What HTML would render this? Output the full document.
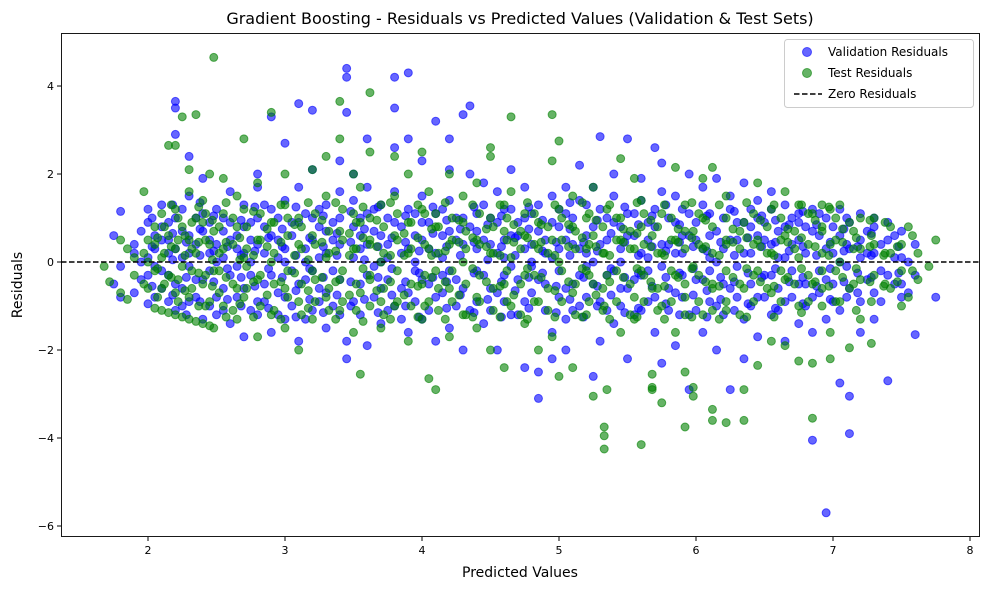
<!DOCTYPE html>
<html><head><meta charset="utf-8"><style>
body{margin:0;background:#fff;}
svg{display:block;font-family:"DejaVu Sans","Liberation Sans",sans-serif;}
</style></head><body>
<svg id="chart" width="989" height="590">
<rect width="989" height="590" fill="#fff"/>
<text x="520" y="24" text-anchor="middle" font-size="16">Gradient Boosting - Residuals vs Predicted Values (Validation &amp; Test Sets)</text>
<g id="points"></g>
<g id="axes"></g>
<text x="520" y="577" text-anchor="middle" font-size="14">Predicted Values</text>
<text x="22" y="285" text-anchor="middle" font-size="14" transform="rotate(-90 22 285)">Residuals</text>
<g>
<rect x="784.5" y="39.5" width="189" height="68" rx="3" fill="#fff" fill-opacity="0.8" stroke="#ccc"/>
<g><circle cx="807" cy="52" r="4.5" fill="#0000ff" fill-opacity="0.6" stroke="#0000ff" stroke-opacity="0.6"/><text x="828" y="56" font-size="12">Validation Residuals</text></g>
<g><circle cx="807" cy="73" r="4.5" fill="#008000" fill-opacity="0.6" stroke="#008000" stroke-opacity="0.6"/><text x="828" y="77" font-size="12">Test Residuals</text></g>
<g><line x1="794" y1="94" x2="822" y2="94" stroke="#000" stroke-width="1.5" stroke-dasharray="5.5,2.5"/><text x="828" y="98" font-size="12">Zero Residuals</text></g>
</g>
</svg>
<script>
// rows: [x, y1, y2, ...]
const validationRows = [
[1.75,-0.5,0.6],[1.8,-0.8,1.15,-0.1],[1.9,0.4,-0.7,0.2],[2.0,-0.95,0.9,-0.3,0.1,1.2],[2.1,-0.6,0.5,1.3,-0.2,0.8],
[2.2,3.65,3.5,2.9,-1.1,0.3,-0.5,1.0],[2.3,-0.9,0.6,1.5,-0.1,2.4,0.2],[2.4,1.9,-1.3,0.7,-0.4,1.1],[2.5,-0.8,0.4,1.2,-1.2,0.0],
[2.6,0.9,-0.3,-1.4,1.6,0.5],[2.7,-1.7,0.2,1.3,-0.6,0.8],[2.8,2.0,-0.9,0.4,-1.2,1.0,1.7],[2.9,3.3,0.6,-0.3,-1.6,1.2],
[3.0,2.7,-0.8,0.3,1.4,-1.3,0.0],[3.1,3.6,-1.8,0.9,-0.5,1.7],[3.2,3.45,0.5,-1.1,2.1,-0.2,1.0],[3.3,-1.5,0.2,1.3,-0.7,0.7],
[3.4,2.3,-0.4,1.0,-1.2,0.4,1.6],[3.45,4.4,4.2,3.4,-2.2,-1.8],[3.5,0.1,1.4,-0.9,0.8,2.0],[3.6,2.8,-1.9,0.4,-0.3,1.1,1.7],
[3.7,-1.4,0.6,1.3,-0.6,0.0],[3.8,4.2,3.5,2.6,-1.0,0.9,1.6],[3.9,4.3,2.8,-0.7,0.3,1.2,-1.6],[4.0,2.3,0.5,-0.4,1.5,-1.3,0.9],
[4.1,3.2,-1.8,0.2,1.1,-0.8],[4.2,2.8,2.1,-0.2,0.7,1.4,-1.5],[4.3,3.35,-2.0,0.4,1.0,-0.6],[4.35,3.55,2.0,-1.1,0.8],
[4.45,1.8,-0.3,0.5,-1.4,1.3],[4.55,-2.0,0.9,-0.7,0.2,1.6],[4.65,1.2,-1.2,0.6,-0.1,2.1],[4.75,-2.4,0.3,1.0,-0.9,1.7],
[4.85,-3.1,-2.5,0.7,-0.4,1.3],[4.95,1.5,-1.6,0.1,0.9,-2.2],[5.05,1.7,-0.6,0.5,-1.3,1.1,-2.0],[5.15,2.2,0.3,-1.0,1.4,-0.3],
[5.25,-2.6,0.8,-0.5,1.7,0.0],[5.3,2.85,-1.8,0.4,1.2,-0.9],[5.4,2.0,-0.2,0.9,-1.4,1.5],[5.5,2.8,-2.2,0.6,-0.6,1.1],
[5.6,1.9,-1.1,0.2,1.4,-0.3],[5.7,2.6,-1.6,0.8,-0.8,1.2],[5.75,2.25,-2.3,0.4,1.6,-0.1],[5.85,1.5,-0.7,0.9,-1.9,0.2],
[5.95,2.0,-2.9,0.6,-1.2,1.1],[6.05,1.7,-1.6,0.3,-0.4,1.3],[6.15,1.9,-1.0,0.7,-2.0,0.0],[6.25,-2.9,1.2,-0.6,0.5,1.5],
[6.35,-2.2,0.9,-1.3,0.2,1.8],[6.45,1.4,-0.8,0.6,-1.7,1.0],[6.55,-1.2,0.4,1.2,-0.3,1.6],[6.65,-0.9,0.8,-1.8,0.1,1.3],
[6.75,1.1,-1.4,0.5,-0.5,0.9],[6.85,-4.05,-1.6,0.7,-0.8,1.2],[6.95,-5.7,-1.3,0.3,1.0,-0.4],[7.05,-2.75,0.6,-1.1,1.2,0.0],
[7.12,-3.9,-3.05,0.9,-0.6,0.3],[7.2,-1.6,0.5,1.1,-0.9,0.1],[7.3,-0.7,0.8,-1.3,1.0,0.2],[7.4,-2.7,0.5,-0.3,0.9],
[7.5,-0.8,0.7,0.1,-0.5],[7.6,-1.65,-0.3,0.4],[7.75,-0.8],
[1.95,0.0,-0.4,0.7],[2.05,-0.8,0.3,-0.1,0.6],[2.15,-0.3,0.9,-0.9,0.2,0.5],[2.25,-0.6,0.1,0.7,-1.0,1.2],[2.35,0.4,-0.4,1.0,-0.8],
[2.45,-0.2,0.5,-1.0,0.9,0.2],[2.55,0.7,-0.6,0.1,1.0,-1.1],[2.65,-0.1,0.6,-0.8,0.3],[2.75,0.5,-0.3,0.9,-1.1,0.0],
[2.85,-0.5,0.2,0.8,-0.9,1.3],[2.95,0.1,-0.7,0.5,1.0,-1.2],[3.05,0.6,-0.2,-1.0,0.9],[3.15,-0.4,0.3,1.1,-1.3,0.0],
[3.25,0.8,-0.6,0.1,1.2,-0.9],[3.35,-0.2,0.5,-1.0,0.9],[3.55,0.3,-0.5,1.0,-1.2,0.6],[3.65,-0.1,0.7,-0.8,1.2],
[3.75,0.4,-0.4,1.0,-1.1,0.1],[3.85,-0.6,0.2,0.8,-1.3],[3.95,0.6,-0.2,1.1,-0.9,0.0],[4.05,-0.5,0.3,0.9,-1.1],
[4.15,0.1,-0.7,0.6,1.2,-0.3],[4.25,0.5,-0.4,1.0,-1.0],[4.4,-0.2,0.7,-0.9,0.3,1.1],[4.5,0.4,-0.6,1.0,-1.1],
[4.6,-0.3,0.5,-0.9,0.1,1.2],[4.7,0.6,-0.4,0.9,-1.2],[4.8,-0.1,0.4,-0.7,1.1,0.0],[4.9,0.5,-0.5,0.2,-1.1],
[5.0,-0.2,0.8,-0.8,0.3,1.2],[5.1,0.4,-0.5,1.0,-1.1],[5.2,-0.1,0.6,-0.8,0.2,1.3],[5.35,0.5,-0.3,1.0,-1.1],
[5.45,-0.6,0.3,0.8,-1.0,0.0],[5.55,0.6,-0.4,1.1,-1.2],[5.65,-0.2,0.5,-0.9,0.9,0.1],[5.8,0.4,-0.6,1.0,-1.1],
[5.9,-0.3,0.6,-0.8,0.2,1.2],[6.0,0.5,-0.4,0.9,-1.1],[6.1,-0.2,0.6,-0.9,0.1,1.1],[6.2,0.3,-0.5,1.0,-1.2],
[6.3,-0.1,0.5,-0.8,0.9],[6.4,0.2,-0.5,0.8,-1.0,1.2],[6.5,-0.3,0.5,-0.8,0.9],[6.6,0.1,-0.6,0.7,-1.1],
[6.7,-0.2,0.4,-0.8,1.0],[6.8,0.2,-0.5,0.8,-1.0],[6.9,-0.2,0.6,-0.7,1.1],[7.0,0.2,-0.5,0.8,-0.9],
[7.1,-0.1,0.4,-0.8,1.0],[7.25,0.2,-0.4,0.7],[7.35,-0.2,0.4,-0.9],[7.45,0.1,-0.5,0.6],[7.55,0.0,-0.7],
[2.03,0.35,-0.55,1.0],[2.18,0.05,-0.75,0.65,1.3],[2.28,-0.35,0.45,-1.2],[2.38,0.15,-0.9,0.75,1.35],[2.48,-0.45,0.25,1.05],
[2.58,0.35,-0.85,-0.15],[2.68,-0.35,0.95,0.15,-1.0],[2.78,0.25,-0.55,1.25],[2.88,-0.15,0.55,-1.05],[2.98,0.35,-0.35,0.75],
[3.08,-0.65,0.15,1.25,-1.25],[3.18,0.55,-0.15,-0.85],[3.28,-0.35,0.35,1.05,-1.15],[3.38,0.15,-0.75,0.65],[3.48,-0.45,0.45,1.15,-1.0],
[3.58,0.05,-0.85,0.75],[3.68,0.35,-0.35,1.25,-1.15],[3.78,-0.15,0.55,-0.75],[3.88,0.45,-0.45,1.05,-1.0],[3.98,-0.25,0.25,-1.25],
[4.08,0.65,-0.35,1.25],[4.18,-0.45,0.35,-1.05,0.95],[4.28,0.15,-0.75,0.75],[4.38,-0.25,0.45,1.25,-1.15],[4.48,0.05,-0.85,0.85],
[4.58,-0.45,0.35,1.05,-1.25],[4.68,0.15,-0.65,0.55],[4.78,-0.35,0.75,-1.05,1.25],[4.88,0.25,-0.25,0.95],[4.98,-0.55,0.45,-1.15],
[5.08,0.15,-0.85,0.75,1.35],[5.18,-0.35,0.45,-1.25],[5.28,0.25,-0.55,0.95,-1.0],[5.38,-0.15,0.65,-0.75],[5.48,0.45,-0.35,1.25,-1.15],
[5.58,-0.25,0.15,-1.05,0.85],[5.68,0.35,-0.55,1.05],[5.78,-0.35,0.25,-0.95,1.3],[5.88,0.45,-0.25,0.85,-1.2],[5.98,-0.15,0.35,-0.75],
[6.08,0.25,-0.65,1.05,-1.25],[6.18,-0.35,0.45,-0.85],[6.28,0.15,-0.45,1.15,-1.1],[6.38,-0.25,0.55,-0.95],[6.48,0.35,-0.35,1.05],
[6.58,-0.15,0.45,-1.05,0.95],[6.68,0.25,-0.45,0.85],[6.78,-0.35,0.35,-0.95,1.15],[6.88,0.15,-0.55,0.85],[6.98,-0.15,0.45,-0.85],
[7.08,0.25,-0.45,0.75],[7.18,-0.25,0.35,-0.7],[7.28,0.15,-0.35,0.65],[7.48,-0.25,0.35]
];
const testRows = [
[1.68,-0.1],[1.72,-0.45],[1.8,-0.7,0.5],[1.85,-0.85,0.3],[1.97,1.6,-0.5,0.2],[2.05,-1.05,0.8,-0.2,0.4],
[2.1,-1.1,1.1,-0.6,0.1],[2.15,2.65,-1.15,0.6,-0.3],[2.2,2.65,-1.2,1.2,-0.7,0.3],[2.25,3.3,-1.25,0.8,-0.1],
[2.3,-1.3,1.6,-0.8,0.5,2.1],[2.35,3.35,-1.35,0.2,1.0],[2.4,-1.4,-0.5,0.9,1.4],[2.45,-1.45,0.4,-0.9,2.0],
[2.48,4.65,-1.5,0.7,-0.2],[2.55,1.9,-1.0,0.3,1.1],[2.65,-0.6,0.8,1.5,-1.3],[2.7,2.8,0.1,-0.8,1.2],
[2.8,1.8,-1.7,0.5,-0.4],[2.9,3.4,-1.2,0.9,0.0],[3.0,2.0,-0.6,1.3,-1.5],[3.1,-2.0,0.4,1.0,-0.9],
[3.2,2.1,-1.3,0.6,-0.2],[3.3,2.4,-0.8,1.5,0.1],[3.4,2.8,3.65,-1.1,0.7,-0.4],[3.5,2.0,-1.6,0.3,1.1],
[3.55,-2.55,-0.7,0.9,1.7],[3.62,3.85,2.5,-0.3,0.5],[3.7,-1.5,1.3,0.0,-0.9],[3.8,2.4,-1.0,0.6,1.5],
[3.9,2.0,-1.8,0.2,0.9],[4.0,2.5,-0.5,1.2,-1.3],[4.05,-2.65,0.3,-0.9,1.6],[4.1,-2.9,0.8,-0.2,1.1],
[4.2,2.0,-1.7,0.4,-0.6],[4.3,1.5,-1.2,0.9,0.0],[4.4,1.8,-0.8,0.5,-1.5],[4.5,2.6,2.4,-2.0,0.2,1.0],
[4.6,-2.4,1.3,-0.5,0.7],[4.65,3.3,-1.0,0.1,1.6],[4.75,-1.4,0.6,-0.3,1.1],[4.85,-2.0,0.9,-0.9,0.3],
[4.95,3.35,2.3,-1.7,0.5],[5.0,2.75,-2.6,0.0,1.2],[5.1,-2.4,0.8,-0.7,1.5],[5.2,-1.2,0.3,1.0,-0.2],
[5.25,-3.05,1.7,-0.5,0.6],[5.33,-3.95,-4.25,-3.75,0.2,-1.0],[5.35,-2.9,1.2,-0.3],[5.45,2.35,-1.6,0.5,1.0],
[5.55,1.9,-0.8,0.3,-1.3],[5.6,-4.15,1.4,-0.2,0.8],[5.68,-2.55,-2.85,-2.9,0.6,-0.6],[5.75,-3.2,1.1,-1.0,0.2],
[5.85,2.15,-1.6,0.5,-0.3],[5.92,-2.5,-3.75,1.3,-0.8],[5.98,-3.05,-2.85,0.7,-0.1],[6.05,1.9,-1.2,0.3,1.0],
[6.12,-3.35,-3.6,2.15,-0.5],[6.22,-3.65,1.5,-1.1,0.4],[6.35,-3.6,-2.9,0.9,-0.6],[6.45,-2.35,1.8,-0.2,0.5],
[6.55,-1.8,1.2,-0.7,0.2],[6.65,-1.9,1.6,0.6,-0.4],[6.75,-2.25,1.3,-1.0,0.1],[6.85,-3.55,-2.3,1.1,-0.5],
[6.92,-1.0,0.7,1.3,-0.2],[6.98,-2.2,-1.6,0.4,1.2],[7.05,-0.9,1.3,0.0],[7.12,-1.95,0.9,-0.6],
[7.2,-1.3,1.0,0.3,-0.4],[7.28,-1.85,0.6,-0.9],[7.38,-0.5,0.9,0.2],[7.5,-1.0,0.4,-0.2],
[7.58,-0.2,0.6],[7.7,-0.1],[7.75,0.5],
[1.9,-0.3,0.1],[2.0,-0.6,0.5,0.0],[2.12,0.2,-0.5,0.8],[2.22,-0.4,0.5,-0.9,1.0],[2.32,0.3,-0.6,0.9,-0.2],
[2.42,-0.3,0.5,-1.0,1.1],[2.52,0.2,-0.7,0.8,-0.2],[2.62,-0.5,0.4,1.0,-1.1],[2.72,0.3,-0.6,0.8,-0.1],
[2.82,-0.3,0.5,-1.0,1.1],[2.92,0.2,-0.5,0.9,-1.1],[3.02,-0.2,0.6,-0.8,1.0],[3.12,0.3,-0.5,0.8,-1.2],
[3.22,-0.4,0.4,1.1,-0.9],[3.32,0.2,-0.6,0.7,-1.1],[3.42,-0.2,0.5,-0.9,1.2],[3.52,0.3,-0.5,0.9,-1.1],
[3.62,-0.4,0.4,-1.0,1.0],[3.72,0.2,-0.6,0.8,-1.2],[3.82,-0.2,0.5,-0.9,1.1],[3.92,0.3,-0.5,0.9,-1.0],
[4.02,-0.3,0.4,-1.0,1.1],[4.12,0.2,-0.6,0.8,-1.1],[4.22,-0.2,0.5,-0.9,1.0],[4.32,0.3,-0.5,0.7,-1.2],
[4.42,-0.3,0.4,-0.9,1.1],[4.52,0.2,-0.6,0.8,-1.1],[4.62,-0.2,0.5,-0.9,1.0],[4.72,0.3,-0.5,0.7,-1.2],
[4.82,-0.3,0.4,-0.9,1.1],[4.92,0.2,-0.6,0.8,-1.1],[5.02,-0.2,0.5,-0.9,1.0],[5.12,0.3,-0.5,0.7,-1.2],
[5.22,-0.3,0.4,-0.9,1.1],[5.32,0.2,-0.6,0.8,-1.1],[5.42,-0.2,0.5,-0.9,1.0],[5.52,0.3,-0.5,0.7,-1.2],
[5.62,-0.3,0.4,-0.9,1.1],[5.72,0.2,-0.6,0.8,-1.1],[5.82,-0.2,0.5,-0.9,1.0],[5.92,0.3,-0.5,0.7,-1.2],
[6.02,-0.3,0.4,-0.9,1.1],[6.12,0.2,-0.6,0.8,-1.1],[6.22,-0.2,0.5,-0.9,1.0],[6.32,0.3,-0.5,0.7,-1.2],
[6.42,-0.3,0.4,-0.9,1.1],[6.52,0.2,-0.6,0.8],[6.62,-0.2,0.5,-0.9,1.0],[6.72,0.3,-0.5,0.7],
[6.82,-0.3,0.4,-0.9,1.1],[6.92,0.2,-0.6,0.8],[7.02,-0.2,0.5,-0.9,1.0],[7.15,0.3,-0.5,0.7],
[7.3,-0.3,0.4,1.0],[7.42,0.2,-0.6,0.8],[7.62,-0.4,0.2],
[2.07,-0.15,0.55,-0.8],[2.17,0.35,-0.35,1.3],[2.27,-0.65,0.15,0.6],[2.37,0.45,-0.25,-1.0,1.25],[2.47,-0.55,0.05,0.95],
[2.57,0.45,-0.35,-1.25,1.35],[2.67,0.05,-0.95,0.55],[2.77,-0.45,0.15,1.15,-1.25],[2.87,0.35,-0.75,0.75],[2.97,-0.45,0.45,-1.3,1.3],
[3.07,0.15,-0.25,0.85],[3.17,-0.65,0.05,1.35,-1.05],[3.27,0.45,-0.35,0.95],[3.37,-0.45,0.25,-1.3,1.35],[3.47,0.15,-0.75,0.65],
[3.57,-0.15,0.55,1.25,-1.35],[3.67,0.35,-0.65,0.95],[3.77,-0.45,0.15,-1.3,1.35],[3.87,0.15,-0.75,0.65],[3.97,-0.55,0.55,1.3,-1.25],
[4.07,0.15,-0.35,0.75],[4.17,-0.45,0.25,-1.3,1.35],[4.27,0.45,-0.75,0.95],[4.37,-0.15,0.55,-1.25,1.3],[4.47,0.35,-0.45,0.75],
[4.57,-0.55,0.15,1.3,-1.25],[4.67,0.45,-0.75,0.85],[4.77,-0.15,0.55,-1.3,1.35],[4.87,0.45,-0.35,0.85],[4.97,-0.65,0.15,1.3,-1.25],
[5.07,0.35,-0.45,0.85],[5.17,-0.15,0.55,-1.25,1.35],[5.27,0.35,-0.75,0.95],[5.37,-0.45,0.15,1.3,-1.3],[5.47,0.45,-0.35,0.75],
[5.57,-0.15,0.65,-1.25,1.35],[5.67,0.35,-0.45,0.95],[5.77,-0.55,0.15,1.3,-1.3],[5.87,0.45,-0.35,0.75],[5.97,-0.15,0.55,-1.25,1.35],
[6.07,0.35,-0.45,0.95],[6.17,-0.55,0.15,1.3,-1.3],[6.27,0.45,-0.35,0.75],[6.37,-0.15,0.55,-1.25,1.35],[6.47,0.35,-0.45,0.95],
[6.57,-0.55,0.15,1.3,-1.25],[6.67,0.45,-0.35,0.75],[6.77,-0.15,0.55,-1.15,1.3],[6.87,0.35,-0.45,0.95],[6.97,-0.55,0.15,1.25],
[7.07,0.45,-0.35,0.75],[7.17,-0.15,0.55,-1.1],[7.27,0.35,-0.45,0.95],[7.37,-0.55,0.15],[7.47,0.35,-0.45],[7.55,0.8,-0.8]
];
const xTicks = [2,3,4,5,6,7,8];
const yTicks = [4,2,0,-2,-4,-6];
const xTickLabels = ["2","3","4","5","6","7","8"];
const yTickLabels = ["4","2","0","\u22122","\u22124","\u22126"];

const L=61,R=980,T=33,B=537;
const X0=1.365,X1=8.073,Y0=-6.25,Y1=5.205;
const sx=v=>L+(v-X0)/(X1-X0)*(R-L);
const sy=v=>B-(v-Y0)/(Y1-Y0)*(B-T);
const NS="http://www.w3.org/2000/svg";
const pts=document.getElementById('points');
const axes=document.getElementById('axes');
function drawSeries(rows,color,name){
  rows.forEach(r=>{
    for(let i=1;i<r.length;i++){
      const c=document.createElementNS(NS,'circle');
      c.setAttribute('cx',sx(r[0]));c.setAttribute('cy',sy(r[i]));
      c.setAttribute('r',4);c.setAttribute('fill',color);c.setAttribute('fill-opacity',0.6);
      c.setAttribute('stroke',color);c.setAttribute('stroke-opacity',0.6);c.setAttribute('stroke-width',1);
      
      
      pts.appendChild(c);
    }
  });
}
drawSeries(validationRows,'#0000ff','validation-point');
drawSeries(testRows,'#008000','test-point');
const zl=document.createElementNS(NS,'line');
zl.setAttribute('x1',L);zl.setAttribute('x2',R);zl.setAttribute('y1',sy(0));zl.setAttribute('y2',sy(0));
zl.setAttribute('stroke','#000');zl.setAttribute('stroke-width',1.5);zl.setAttribute('stroke-dasharray','5.5,2.5');


pts.appendChild(zl);
const fr=document.createElementNS(NS,'rect');
fr.setAttribute('x',L+0.5);fr.setAttribute('y',T+0.5);fr.setAttribute('width',R-L-1);fr.setAttribute('height',B-T-1);
fr.setAttribute('fill','none');fr.setAttribute('stroke','#000');fr.setAttribute('stroke-width',0.9);


axes.appendChild(fr);
xTicks.forEach((t,i)=>{
  const x=sx(t);
  const l=document.createElementNS(NS,'line');
  l.setAttribute('x1',x);l.setAttribute('x2',x);l.setAttribute('y1',B);l.setAttribute('y2',B+4);l.setAttribute('stroke','#000');
  
  
  axes.appendChild(l);
  const tx=document.createElementNS(NS,'text');
  tx.setAttribute('x',x);tx.setAttribute('y',B+17);tx.setAttribute('text-anchor','middle');tx.setAttribute('font-size','11');
  tx.textContent=xTickLabels[i];
  
  
  axes.appendChild(tx);
});
yTicks.forEach((t,i)=>{
  const y=sy(t);
  const l=document.createElementNS(NS,'line');
  l.setAttribute('x1',L-4);l.setAttribute('x2',L);l.setAttribute('y1',y);l.setAttribute('y2',y);l.setAttribute('stroke','#000');
  
  
  axes.appendChild(l);
  const tx=document.createElementNS(NS,'text');
  tx.setAttribute('x',L-7);tx.setAttribute('y',y+4);tx.setAttribute('text-anchor','end');tx.setAttribute('font-size','11');
  tx.textContent=yTickLabels[i];
  
  
  axes.appendChild(tx);
});
</script>
</body></html>
